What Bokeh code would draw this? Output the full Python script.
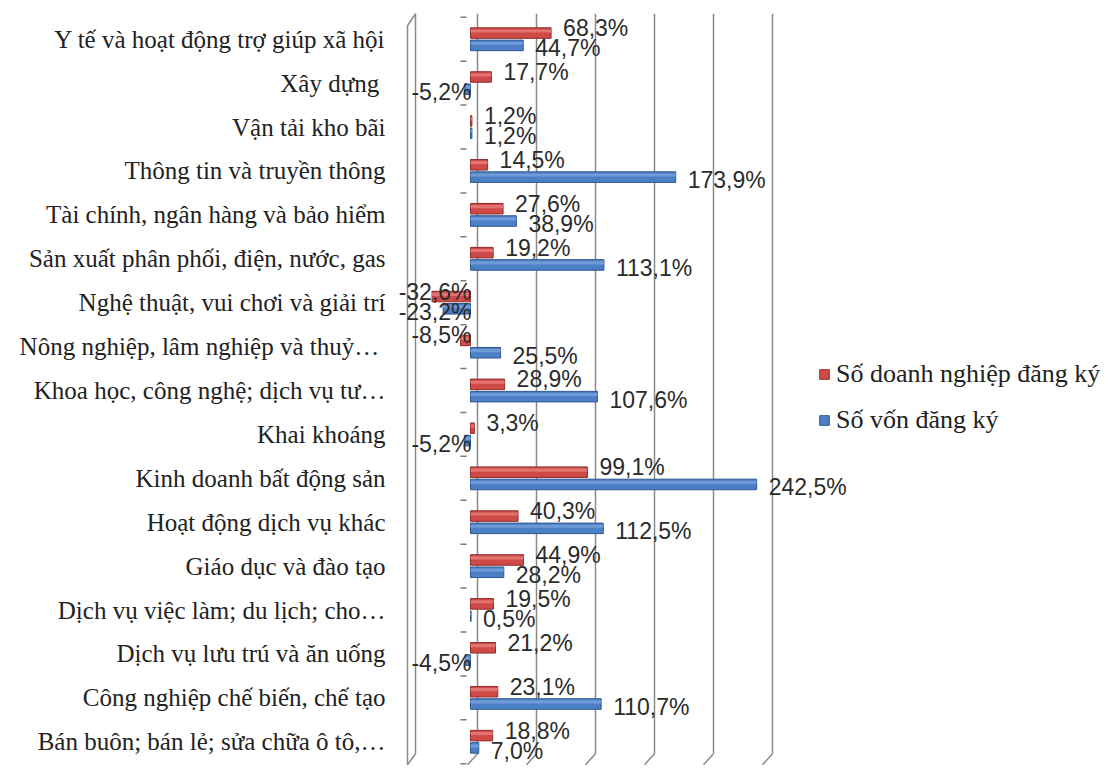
from bokeh.plotting import figure
from bokeh.models import ColumnDataSource, FactorRange, Range1d, Legend, LegendItem, LabelSet
from bokeh.transform import dodge
from bokeh.core.properties import value
from bokeh.embed import file_html
from bokeh.resources import INLINE

# ---- data (top to bottom as in the chart) ----
categories = [
    "Y tế và hoạt động trợ giúp xã hội",
    "Xây  dựng",
    "Vận tải kho bãi",
    "Thông tin và truyền thông",
    "Tài chính, ngân hàng và bảo hiểm",
    "Sản xuất phân phối, điện, nước, gas",
    "Nghệ thuật, vui chơi và giải trí",
    "Nông nghiệp,  lâm nghiệp và thuỷ…",
    "Khoa học, công nghệ; dịch vụ tư…",
    "Khai khoáng",
    "Kinh doanh bất động sản",
    "Hoạt động dịch vụ khác",
    "Giáo dục và đào tạo",
    "Dịch vụ việc làm; du lịch; cho…",
    "Dịch vụ lưu trú và ăn uống",
    "Công nghiệp chế biến, chế tạo",
    "Bán buôn; bán lẻ; sửa chữa ô tô,…",
]
so_doanh_nghiep = [68.3, 17.7, 1.2, 14.5, 27.6, 19.2, -32.6, -8.5, 28.9, 3.3,
                   99.1, 40.3, 44.9, 19.5, 21.2, 23.1, 18.8]
so_von = [44.7, -5.2, 1.2, 173.9, 38.9, 113.1, -23.2, 25.5, 107.6, -5.2,
          242.5, 112.5, 28.2, 0.5, -4.5, 110.7, 7.0]
series_names = ["Số doanh nghiệp đăng ký", "Số vốn đăng ký"]
grid_values = [0, 50, 100, 150, 200, 250]
x_min, x_max = -50, 250

def fmt(v):
    return f"{v:.1f}".replace(".", ",") + "%"

RED, RED_D, RED_L = "#CF4A47", "#8E2E2C", "#E27370"
BLUE, BLUE_D, BLUE_L = "#4C80C6", "#2E568F", "#6E9AD6"
GRID = "#8a8a8a"

W, H = 1110, 780
LEFT, TOP, BOTTOM = 390, 8, 8
ZERO_PX = 470
PX_PER_UNIT = 1.18  # px per percent
frame_w = W - LEFT
x_start = -(ZERO_PX - LEFT) / PX_PER_UNIT
x_end = x_start + frame_w / PX_PER_UNIT

PAD = 0.2  # category units added on each side
factors = categories[::-1]
y_range = FactorRange(factors=factors, range_padding=PAD, range_padding_units="absolute")

p = figure(width=W, height=H, y_range=y_range, x_range=Range1d(x_start, x_end),
           output_backend="svg", toolbar_location=None,
           min_border_left=LEFT, min_border_right=0, min_border_top=TOP, min_border_bottom=BOTTOM,
           outline_line_color=None, background_fill_color="white", border_fill_color="white")
p.xaxis.visible = False
p.xgrid.visible = False
p.ygrid.visible = False

n = len(categories)
row_px = (H - TOP - BOTTOM) / (n + 2 * PAD)
u = 1 / PX_PER_UNIT   # data units per px along x
v = 1 / row_px        # data units per px along y

top_row = n - 0.5
bot_row = 0.5
y_top = top_row + 25.5 * v
y_bot = bot_row - 12 * v
y_floor = bot_row - 23 * v
back = 7 * u

# back-wall gridlines with floor slant
gx = [g + back for g in grid_values]
p.segment(x0=gx, y0=[y_top] * len(gx), x1=gx, y1=[y_bot] * len(gx), line_color=GRID, line_width=1.5)
p.segment(x0=gx, y0=[y_bot] * len(gx), x1=[g - 3 * u for g in grid_values], y1=[y_floor] * len(gx),
          line_color=GRID, line_width=1.5)
# left side wall
wb = x_min + back - 3 * u
wf = x_min - 4 * u
p.line(x=[wb, wb, wf, wf, wb], y=[y_bot, y_top, y_top - 12 * v, y_floor, y_bot], line_color=GRID, line_width=1.5)

# category tick dashes
tick_y = [i for i in range(n + 1)]
p.segment(x0=[-10 * u] * len(tick_y), x1=[-4 * u] * len(tick_y), y0=tick_y, y1=tick_y,
          line_color="#7a7a7a", line_width=1.5)

src = ColumnDataSource(dict(cat=categories, a=so_doanh_nghiep, b=so_von))

bh = 0.24
r_red = p.hbar(y=dodge("cat", 0.14, range=p.y_range), left=0, right="a", height=bh, source=src,
               fill_color=RED, line_color=RED_D, line_width=1)
p.hbar(y=dodge("cat", 0.14 + bh * 0.2, range=p.y_range), left=0, right="a", height=bh * 0.3, source=src,
       fill_color=RED_L, line_color=None)
r_blue = p.hbar(y=dodge("cat", -0.14, range=p.y_range), left=0, right="b", height=bh, source=src,
                fill_color=BLUE, line_color=BLUE_D, line_width=1)
p.hbar(y=dodge("cat", -0.14 + bh * 0.2, range=p.y_range), left=0, right="b", height=bh * 0.3, source=src,
       fill_color=BLUE_L, line_color=None)

# data labels
def label_source(vals, positive):
    keep = [(c, x) for c, x in zip(categories, vals) if (x >= 0) == positive]
    return ColumnDataSource(dict(cat=[c for c, _ in keep],
                                 x=[x if positive else 0 for _, x in keep],
                                 t=[fmt(x) for _, x in keep]))

lab_kw = dict(text="t", text_font=value("Liberation Sans"), text_font_size="23px",
              text_color="#2b2b2b", text_baseline="middle")
ya = 0.14 + 5 * v
yb = -0.14 - 3 * v
for vals, yy in ((so_doanh_nghiep, ya), (so_von, yb)):
    p.add_layout(LabelSet(x="x", y=dodge("cat", yy, range=p.y_range), source=label_source(vals, True),
                          text_align="left", x_offset=12, **lab_kw))
    p.add_layout(LabelSet(x="x", y=dodge("cat", yy, range=p.y_range), source=label_source(vals, False),
                          text_align="right", x_offset=1, **lab_kw))

# category axis
ax = p.yaxis[0]
ax.axis_line_color = None
ax.major_tick_line_color = None
ax.minor_tick_line_color = None
ax.major_tick_out = 0
ax.major_label_standoff = 5
ax.major_label_text_font = "Liberation Serif"
ax.major_label_text_font_size = "25px"
ax.major_label_text_color = "#222222"

legend = Legend(items=[LegendItem(label=series_names[0], renderers=[r_red]),
                       LegendItem(label=series_names[1], renderers=[r_blue])],
                location=(818 - LEFT, 332), orientation="vertical",
                glyph_width=12, glyph_height=12, label_height=40, spacing=6,
                label_standoff=6, padding=0, margin=0,
                label_text_font="Liberation Serif", label_text_font_size="26px",
                label_text_color="#222222", border_line_color=None, background_fill_alpha=0)
p.add_layout(legend)

open("out.html", "w").write(file_html(p, INLINE))
